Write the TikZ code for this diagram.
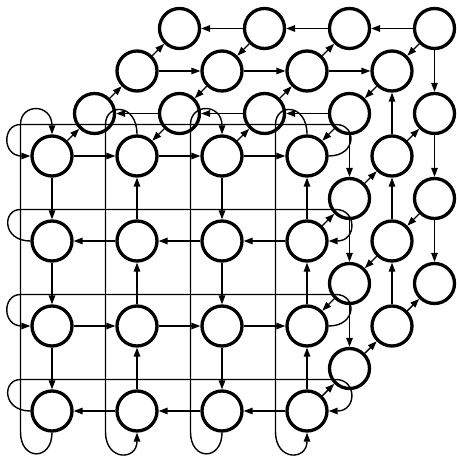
\documentclass[tikz,border=0pt]{standalone}
\usetikzlibrary{arrows.meta}
\begin{document}
\begin{tikzpicture}[x=1pt,y=-1pt,
  cnode/.style={circle,draw,line width=3.3pt,minimum size=40pt,inner sep=0pt},
  link/.style={line width=1.4pt,-{Triangle[length=9pt,width=6.5pt]}},
]
\useasboundingbox (0,0) rectangle (456,462);
% front face
\foreach \r in {0,...,3}{\foreach \c in {0,...,3}{
  \node[cnode] (n0\r\c) at ({52+85*\c},{156+85*\r}) {};
}}
% top and right faces of the layers behind
\foreach \z in {1,2,3}{
  \foreach \c in {0,1,2,3}{\node[cnode] (n\z0\c) at ({52+85*\c+42.5*\z},{156-42.5*\z}) {};}
  \foreach \r in {1,2,3}{\node[cnode] (n\z\r3) at ({307+42.5*\z},{156+85*\r-42.5*\z}) {};}
}
% front rows
\foreach \r in {0,...,3}{\foreach \c [evaluate=\c as \d using int(\c+1)] in {0,1,2}{
  \ifodd\r \draw[link] (n0\r\d) -- (n0\r\c); \else \draw[link] (n0\r\c) -- (n0\r\d); \fi
}}
% front columns
\foreach \c in {0,...,3}{\foreach \r [evaluate=\r as \s using int(\r+1)] in {0,1,2}{
  \ifodd\c \draw[link] (n0\s\c) -- (n0\r\c); \else \draw[link] (n0\r\c) -- (n0\s\c); \fi
}}
% rows on the top face of layers 1-3
\foreach \z in {1,2,3}{\foreach \c [evaluate=\c as \d using int(\c+1)] in {0,1,2}{
  \ifodd\z \draw[link] (n\z0\d) -- (n\z0\c); \else \draw[link] (n\z0\c) -- (n\z0\d); \fi
}}
% columns on the right face of layers 1-3
\foreach \z in {1,2,3}{\foreach \r [evaluate=\r as \s using int(\r+1)] in {0,1,2}{
  \ifodd\z \draw[link] (n\z\r3) -- (n\z\s3); \else \draw[link] (n\z\s3) -- (n\z\r3); \fi
}}
% depth links, top face
\foreach \c in {0,...,3}{\foreach \z [evaluate=\z as \w using int(\z+1)] in {0,1,2}{
  \ifodd\c \draw[link] (n\w0\c) -- (n\z0\c); \else \draw[link] (n\z0\c) -- (n\w0\c); \fi
}}
% depth links, right face
\foreach \r in {1,2,3}{\foreach \z [evaluate=\z as \w using int(\z+1)] in {0,1,2}{
  \ifodd\r \draw[link] (n\z\r3) -- (n\w\r3); \else \draw[link] (n\w\r3) -- (n\z\r3); \fi
}}
% row wraparounds on the front face
\foreach \r in {0,...,3}{
  \pgfmathsetmacro{\yr}{156+85*\r}
  \pgfmathsetmacro{\yl}{\yr-31.5}
  \ifodd\r
    \draw[link] (n0\r0.west) .. controls (2,\yr) and (2,\yl) .. (20.5,\yl) -- (336,\yl) .. controls (357,\yl) and (357,\yr) .. (n0\r3.east);
  \else
    \draw[link] (n0\r3.east) .. controls (357,\yr) and (357,\yl) .. (336,\yl) -- (20.5,\yl) .. controls (2,\yl) and (2,\yr) .. (n0\r0.west);
  \fi
}
% column wraparounds on the front face
\foreach \c in {0,...,3}{
  \pgfmathsetmacro{\xc}{52+85*\c}
  \pgfmathsetmacro{\xl}{\xc-31.5}
  \ifodd\c
    \draw[link] (n00\c.north) .. controls (\xc,103) and (\xl,103) .. (\xl,124.5) -- (\xl,432) .. controls (\xl,461) and (\xc,461) .. (n03\c.south);
  \else
    \draw[link] (n03\c.south) .. controls (\xc,461) and (\xl,461) .. (\xl,432) -- (\xl,124.5) .. controls (\xl,103) and (\xc,103) .. (n00\c.north);
  \fi
}
\end{tikzpicture}
\end{document}
